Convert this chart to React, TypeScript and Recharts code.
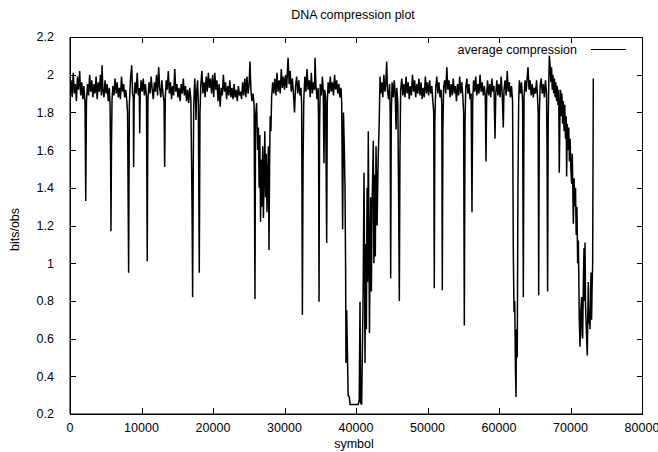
import { LineChart, Line, XAxis, YAxis } from 'recharts';

// [symbol, bits/obs], one array per 10000 symbols
const seg0: [number, number][] = [
  [0, 1.93], [150, 1.97], [300, 1.88], [450, 2.01], [600, 1.9], [750, 1.95], [900, 1.86], [1050, 1.99],
  [1200, 1.92], [1350, 2.02], [1500, 1.89], [1650, 1.96], [1800, 1.87], [1950, 1.94], [2100, 1.85],
  [2200, 1.33], [2300, 1.86], [2450, 1.95], [2600, 1.89], [2750, 2.0], [2900, 1.91], [3050, 1.97],
  [3200, 1.88], [3350, 1.95], [3500, 1.9], [3650, 1.99], [3800, 1.87], [3950, 1.96], [4100, 1.91],
  [4250, 2.0], [4400, 1.89], [4480, 2.05], [4600, 1.92], [4750, 1.88], [4900, 1.97], [5050, 1.9],
  [5200, 1.95], [5350, 1.86], [5500, 1.93], [5600, 1.84], [5680, 1.55], [5730, 1.17], [5800, 1.62],
  [5880, 1.87], [6000, 1.94], [6150, 1.89], [6300, 1.98], [6450, 1.9], [6600, 1.96], [6750, 1.88],
  [6900, 1.93], [7050, 1.87], [7200, 1.99], [7350, 1.91], [7500, 1.95], [7650, 1.88], [7800, 1.92],
  [7950, 1.86], [8050, 1.8], [8200, 0.95], [8300, 1.84], [8450, 1.97], [8630, 2.05], [8750, 1.9],
  [8850, 1.88], [8900, 1.51], [8970, 1.86], [9100, 1.96], [9250, 1.9], [9400, 2.01], [9550, 1.89],
  [9680, 1.93], [9750, 1.69], [9820, 1.9], [9950, 1.97],
];

const seg1: [number, number][] = [
  [10100, 1.91], [10250, 1.98], [10400, 1.89], [10550, 1.95], [10700, 1.88], [10800, 1.01], [10900, 1.87],
  [11050, 1.96], [11200, 1.9], [11350, 1.99], [11500, 1.92], [11650, 1.87], [11800, 1.96], [11950, 1.91],
  [12100, 2.0], [12250, 1.89], [12400, 2.04], [12550, 1.93], [12700, 1.88], [12850, 1.97], [13000, 1.9],
  [13150, 1.86], [13240, 1.51], [13330, 1.88], [13450, 1.97], [13600, 1.92], [13750, 2.02], [13900, 1.9],
  [14050, 1.96], [14200, 1.87], [14350, 1.94], [14500, 1.89], [14650, 2.03], [14800, 1.91], [14950, 1.95],
  [15100, 1.88], [15250, 1.93], [15400, 1.86], [15550, 1.95], [15700, 1.9], [15850, 1.98], [16000, 1.89],
  [16150, 1.94], [16300, 1.86], [16450, 1.92], [16600, 1.85], [16750, 1.93], [16900, 1.87], [17000, 1.55],
  [17080, 1.25], [17150, 0.82], [17230, 1.45], [17300, 1.83], [17450, 1.98], [17550, 1.88], [17620, 1.76],
  [17700, 1.9], [17850, 1.97], [17950, 1.84], [18080, 0.95], [18180, 1.8], [18300, 1.95], [18450, 2.02],
  [18600, 1.9], [18750, 1.96], [18900, 1.88], [19050, 1.99], [19200, 1.91], [19350, 2.01], [19500, 1.93],
  [19650, 1.98], [19800, 1.9], [19950, 2.0],
];

const seg2: [number, number][] = [
  [20100, 1.88], [20250, 2.01], [20400, 1.92], [20550, 1.97], [20700, 1.86], [20850, 1.95], [21000, 1.83],
  [21150, 1.93], [21300, 1.89], [21450, 2.0], [21600, 1.91], [21750, 1.96], [21900, 1.87], [22050, 1.94],
  [22200, 1.89], [22350, 1.97], [22500, 1.88], [22650, 1.93], [22800, 1.87], [22950, 1.95], [23100, 1.88],
  [23250, 1.92], [23400, 1.86], [23550, 1.94], [23700, 1.89], [23850, 1.91], [24000, 1.87], [24150, 1.96],
  [24300, 1.89], [24450, 1.98], [24600, 1.88], [24750, 1.99], [24900, 1.9], [25050, 1.95], [25170, 2.07],
  [25300, 1.92], [25450, 1.86], [25600, 1.9], [25750, 1.84], [25870, 0.81], [25950, 1.78], [26100, 1.85],
  [26250, 1.6], [26350, 1.72], [26450, 1.4], [26550, 1.68], [26650, 1.22], [26750, 1.55], [26850, 1.3],
  [26950, 1.62], [27050, 1.24], [27150, 1.48], [27250, 1.7], [27350, 1.35], [27450, 1.58], [27550, 1.27],
  [27650, 1.45], [27750, 1.62], [27830, 1.07], [27920, 1.55], [28000, 1.78], [28100, 1.7], [28200, 1.88],
  [28350, 1.96], [28500, 1.9], [28650, 1.98], [28800, 1.89], [28950, 2.01], [29100, 1.91], [29250, 1.97],
  [29400, 1.9], [29550, 2.03], [29700, 1.93], [29850, 1.99],
];

const seg3: [number, number][] = [
  [30000, 1.92], [30150, 2.0], [30300, 1.93], [30500, 2.09], [30650, 1.95], [30800, 2.02], [30950, 1.91],
  [31100, 1.98], [31250, 1.9], [31400, 1.8], [31550, 1.94], [31700, 1.99], [31850, 1.9], [32000, 1.97],
  [32150, 1.89], [32300, 1.93], [32400, 1.84], [32500, 0.725], [32600, 1.55], [32700, 1.87], [32850, 1.99],
  [33000, 1.91], [33150, 2.03], [33300, 1.92], [33450, 1.97], [33600, 1.88], [33750, 2.01], [33900, 1.9],
  [34050, 1.96], [34200, 1.92], [34270, 2.09], [34400, 1.94], [34550, 1.87], [34700, 1.93], [34760, 1.75],
  [34830, 0.795], [34900, 1.7], [35000, 1.95], [35150, 1.89], [35300, 1.99], [35420, 1.91], [35520, 1.53],
  [35620, 1.92], [35750, 1.88], [35900, 1.107], [35980, 1.85], [36100, 1.96], [36250, 1.9], [36400, 1.99],
  [36550, 1.91], [36700, 1.96], [36850, 1.89], [37000, 2.0], [37150, 1.92], [37300, 1.97], [37450, 1.9],
  [37600, 1.95], [37750, 1.88], [37900, 1.93], [38000, 1.85], [38130, 1.18], [38250, 1.8], [38360, 1.62],
  [38460, 1.41], [38550, 0.95], [38600, 0.47], [38700, 0.75], [38790, 0.55], [38900, 0.3], [39070, 0.29],
  [39160, 0.25], [39500, 0.25], [40000, 0.25], [40300, 0.25], [40450, 0.27], [40560, 0.795], [40650, 0.26],
  [40790, 0.25],
];

const seg4: [number, number][] = [
  [40930, 0.645], [41000, 0.85], [41120, 1.48], [41200, 1.0], [41260, 0.47], [41350, 1.1], [41450, 0.65],
  [41550, 1.4], [41620, 0.9], [41720, 1.7], [41800, 1.2], [41880, 0.63], [41960, 1.0], [42050, 1.35],
  [42150, 0.85], [42250, 1.3], [42420, 1.65], [42500, 1.0], [42600, 1.47], [42700, 1.035], [42800, 1.62],
  [42950, 1.2], [43100, 1.55], [43250, 1.75], [43360, 1.99], [43450, 1.9], [43600, 1.96], [43750, 1.88],
  [43900, 2.0], [44050, 1.91], [44180, 1.96], [44290, 2.07], [44400, 1.92], [44550, 1.87], [44700, 1.95],
  [44780, 1.8], [44850, 0.92], [44930, 1.78], [45050, 1.96], [45220, 1.88], [45350, 1.97], [45480, 1.9],
  [45600, 1.71], [45700, 1.93], [45850, 1.85], [45950, 1.4], [46060, 0.8], [46150, 1.6], [46250, 1.92],
  [46400, 1.98], [46550, 1.89], [46700, 1.95], [46850, 1.88], [47000, 1.99], [47150, 1.9], [47300, 1.96],
  [47450, 1.87], [47600, 1.94], [47750, 1.89], [47900, 2.0], [48050, 1.91], [48200, 1.97], [48350, 1.88],
  [48500, 1.95], [48650, 1.9], [48800, 1.98], [48950, 1.89], [49100, 1.96], [49250, 1.87], [49400, 1.93],
  [49550, 1.88], [49700, 1.99], [49850, 1.9],
];

const seg5: [number, number][] = [
  [50000, 1.96], [50150, 1.89], [50300, 1.97], [50450, 1.9], [50600, 1.94], [50750, 1.86], [50870, 1.8],
  [50950, 0.867], [51030, 1.75], [51150, 1.93], [51300, 1.99], [51450, 1.9], [51600, 1.96], [51750, 1.88],
  [51900, 1.92], [52000, 1.84], [52070, 0.857], [52150, 1.7], [52250, 1.93], [52400, 1.97], [52550, 1.9],
  [52700, 2.04], [52850, 1.92], [53000, 1.97], [53150, 1.88], [53300, 1.95], [53450, 1.89], [53600, 1.98],
  [53750, 1.9], [53900, 1.94], [54050, 1.86], [54200, 1.95], [54350, 1.89], [54500, 1.99], [54650, 1.9],
  [54800, 1.96], [54950, 1.88], [55050, 1.8], [55150, 0.67], [55250, 1.75], [55350, 1.93], [55500, 1.98],
  [55650, 1.9], [55800, 1.95], [55950, 1.87], [56100, 1.9], [56220, 1.27], [56320, 1.86], [56450, 1.97],
  [56600, 1.91], [56750, 1.99], [56900, 1.89], [57050, 1.95], [57200, 1.9], [57350, 2.0], [57500, 1.91],
  [57650, 1.96], [57800, 1.89], [57950, 1.94], [58080, 1.88], [58180, 1.54], [58280, 1.9], [58400, 1.97],
  [58550, 1.89], [58700, 1.95], [58850, 1.88], [59000, 1.98], [59150, 1.91], [59300, 1.94], [59440, 1.66],
  [59550, 1.9], [59700, 1.97], [59850, 1.89],
];

const seg6: [number, number][] = [
  [60000, 1.95], [60150, 1.88], [60300, 1.99], [60450, 1.9], [60600, 1.72], [60700, 1.92], [60850, 1.97],
  [61000, 1.89], [61150, 2.02], [61300, 1.91], [61450, 1.96], [61600, 1.88], [61750, 1.94], [61900, 1.86],
  [62000, 1.07], [62100, 0.74], [62200, 0.8], [62300, 0.45], [62380, 0.29], [62450, 0.65], [62550, 0.5],
  [62650, 1.4], [62750, 1.86], [62850, 1.97], [63000, 1.9], [63150, 1.96], [63300, 1.86], [63400, 0.82],
  [63500, 1.88], [63650, 1.97], [63800, 1.91], [63950, 1.99], [64060, 2.04], [64200, 1.92], [64350, 1.97],
  [64500, 1.89], [64650, 1.95], [64800, 1.88], [64950, 1.93], [65100, 1.9], [65250, 1.97], [65400, 1.87],
  [65480, 1.8], [65550, 0.83], [65640, 1.78], [65750, 1.94], [65900, 1.98], [66050, 1.9], [66200, 1.95],
  [66350, 1.88], [66500, 1.97], [66650, 1.9], [66720, 1.6], [66800, 0.85], [66880, 1.75], [66960, 1.95],
  [67040, 2.1], [67150, 2.05], [67250, 1.96], [67350, 2.04], [67450, 1.92], [67550, 2.0], [67650, 1.9],
  [67750, 1.98], [67850, 1.88], [67950, 1.96], [68050, 1.86], [68150, 1.94], [68250, 1.84], [68350, 1.92],
  [68430, 1.48], [68530, 1.82], [68620, 1.92], [68700, 1.78], [68800, 1.9], [68900, 1.74], [69000, 1.86],
  [69100, 1.7], [69200, 1.84], [69300, 1.66], [69400, 1.78], [69460, 1.46], [69550, 1.74], [69650, 1.6],
  [69750, 1.72], [69850, 1.54], [69950, 1.66],
];

const seg7: [number, number][] = [
  [70050, 1.5], [70160, 1.42], [70250, 1.58], [70400, 1.21], [70500, 1.45], [70600, 1.3], [70700, 1.4],
  [70800, 1.15], [70900, 1.3], [71000, 1.0], [71100, 1.12], [71230, 0.7], [71330, 0.557], [71450, 0.75],
  [71560, 0.82], [71630, 0.62], [71700, 0.6], [71800, 0.9], [71890, 1.08], [71960, 0.8], [72030, 1.11],
  [72100, 0.78], [72170, 0.7], [72260, 0.6], [72350, 0.51], [72420, 0.72], [72490, 0.9], [72560, 0.68],
  [72630, 0.75], [72730, 0.65], [72800, 0.85], [72870, 0.95], [72950, 0.7], [73010, 0.85], [73100, 1.0],
  [73190, 1.98],
];

const xTicks = [0, 10000, 20000, 30000, 40000, 50000, 60000, 70000, 80000];
const yTicks = [0.2, 0.4, 0.6, 0.8, 1, 1.2, 1.4, 1.6, 1.8, 2, 2.2];
const xMin = 0;
const xMax = 80000;
const yMin = 0.2;
const yMax = 2.2;

const data = [...seg0, ...seg1, ...seg2, ...seg3, ...seg4, ...seg5, ...seg6, ...seg7].map(([symbol, bits]) => ({
  symbol,
  bits,
}));

// plot box (gnuplot style frame with inward ticks on all four sides)
const W = 658;
const H = 452;
const box = { left: 70, top: 37, right: 642, bottom: 414 };
const tickLen = 6;
const sx = (v: number) => Math.round(box.left + ((v - xMin) / (xMax - xMin)) * (box.right - box.left));
const sy = (v: number) => Math.round(box.bottom - ((v - yMin) / (yMax - yMin)) * (box.bottom - box.top));

const font = '"Liberation Sans", Arial, sans-serif';
const tickStyle = { fill: '#000', fontSize: 12.5, fontFamily: font };
const label = { position: 'absolute' as const, fontSize: 12.5, lineHeight: '15px', color: '#000' };
const mark = { position: 'absolute' as const, background: '#000', zIndex: 2 };

function Frame() {
  return (
    <>
      <div
        style={{
          position: 'absolute',
          zIndex: 2,
          left: box.left,
          top: box.top,
          width: box.right - box.left + 1,
          height: box.bottom - box.top + 1,
          border: '1px solid #000',
          boxSizing: 'border-box',
          pointerEvents: 'none',
        }}
      />
      {xTicks.map((t) => (
        <div key={`xt${t}`}>
          <div style={{ ...mark, left: sx(t), top: box.top, width: 1, height: tickLen }} />
          <div style={{ ...mark, left: sx(t), top: box.bottom - tickLen, width: 1, height: tickLen }} />
        </div>
      ))}
      {yTicks.map((t) => (
        <div key={`yt${t}`}>
          <div style={{ ...mark, left: box.left, top: sy(t), width: tickLen, height: 1 }} />
          <div style={{ ...mark, left: box.right - tickLen + 1, top: sy(t), width: tickLen, height: 1 }} />
        </div>
      ))}
    </>
  );
}

export default function App() {
  return (
    <div style={{ position: 'absolute', left: 0, top: 0, width: W, height: H, background: '#fff', fontFamily: font }}>
      <LineChart
        width={W}
        height={H}
        data={data}
        margin={{ top: box.top, right: W - box.right, left: 0, bottom: 0 }}
      >
        <XAxis
          dataKey="symbol"
          type="number"
          domain={[xMin, xMax]}
          ticks={xTicks}
          interval={0}
          height={H - box.bottom}
          tickSize={0}
          tickMargin={9}
          tick={tickStyle}
          axisLine={{ stroke: '#000' }}
          tickLine={false}
          allowDataOverflow
        />
        <YAxis
          type="number"
          domain={[yMin, yMax]}
          ticks={yTicks}
          interval={0}
          width={box.left}
          tickSize={0}
          tickMargin={16}
          tick={tickStyle}
          axisLine={{ stroke: '#000' }}
          tickLine={false}
          allowDataOverflow
        />
        <Line dataKey="bits" stroke="#000" strokeWidth={1.5} dot={false} isAnimationActive={false} />
      </LineChart>
      <Frame />
      <div style={{ ...label, left: 253, top: 8, width: 200, textAlign: 'center' }}>DNA compression plot</div>
      <div style={{ ...label, left: 304, top: 437, width: 100, textAlign: 'center' }}>symbol</div>
      <div style={{ ...label, left: -25, top: 222, width: 80, height: 15, textAlign: 'center', transform: 'rotate(-90deg)' }}>
        bits/obs
      </div>
      <div style={{ ...label, left: 437, top: 43, width: 140, textAlign: 'right' }}>average compression</div>
      <div style={{ position: 'absolute', left: 591, top: 49, width: 35, height: 1, background: '#000' }} />
    </div>
  );
}
